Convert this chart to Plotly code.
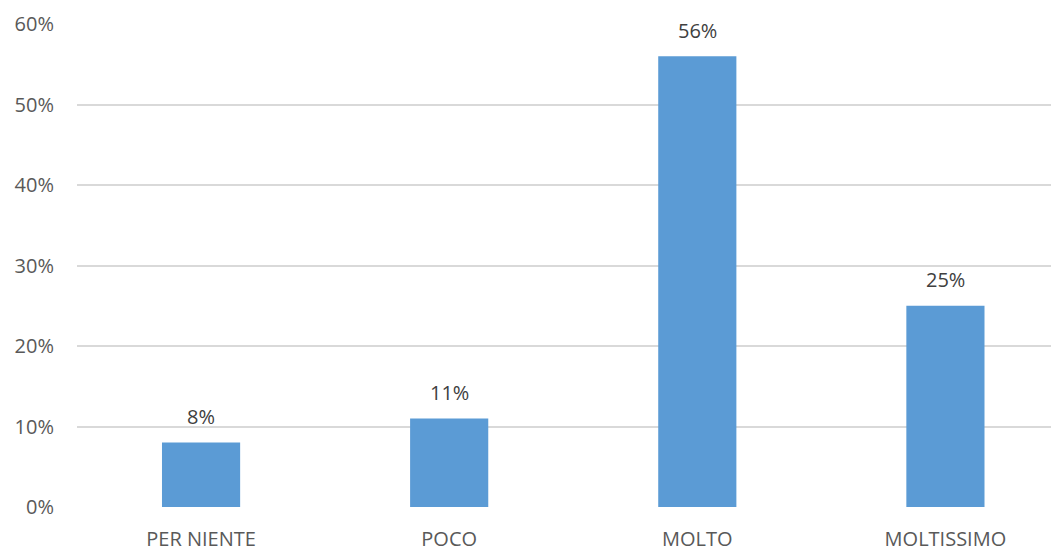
import plotly.graph_objects as go

categories = ["PER NIENTE", "POCO", "MOLTO", "MOLTISSIMO"]
values = [0.08, 0.11, 0.56, 0.25]
labels = ["8%", "11%", "56%", "25%"]
tick_vals = [0, 0.1, 0.2, 0.3, 0.4, 0.5, 0.6]
tick_text = ["0%", "10%", "20%", "30%", "40%", "50%", "60%"]

FONT = "Open Sans"

fig = go.Figure()
fig.add_trace(go.Bar(
    x=categories, y=values,
    marker=dict(color="#5B9BD5", line=dict(width=0)),
    width=0.315,
    hoverinfo="skip",
))

for c, v, t in zip(categories, values, labels):
    fig.add_annotation(x=c, y=v, text=t, showarrow=False, yanchor="middle", yshift=26,
                       font=dict(family=FONT, size=20, color="#404040"))

fig.update_layout(
    width=1059, height=550,
    margin=dict(l=69, r=0, t=16, b=51),
    plot_bgcolor="white", paper_bgcolor="white",
    showlegend=False,
    xaxis=dict(range=[-0.5, 3.49], showgrid=False, zeroline=False, showline=False,
               ticks="", ticklabelstandoff=18,
               tickfont=dict(family=FONT, size=20, color="#595959")),
    yaxis=dict(range=[0, 0.6], tickvals=tick_vals, ticktext=tick_text,
               showgrid=True, gridcolor="#D9D9D9", gridwidth=1.5,
               zeroline=False, showline=False, ticks="",
               ticklabelstandoff=22,
               tickfont=dict(family=FONT, size=20, color="#595959")),
)

fig.write_html("out.html")
